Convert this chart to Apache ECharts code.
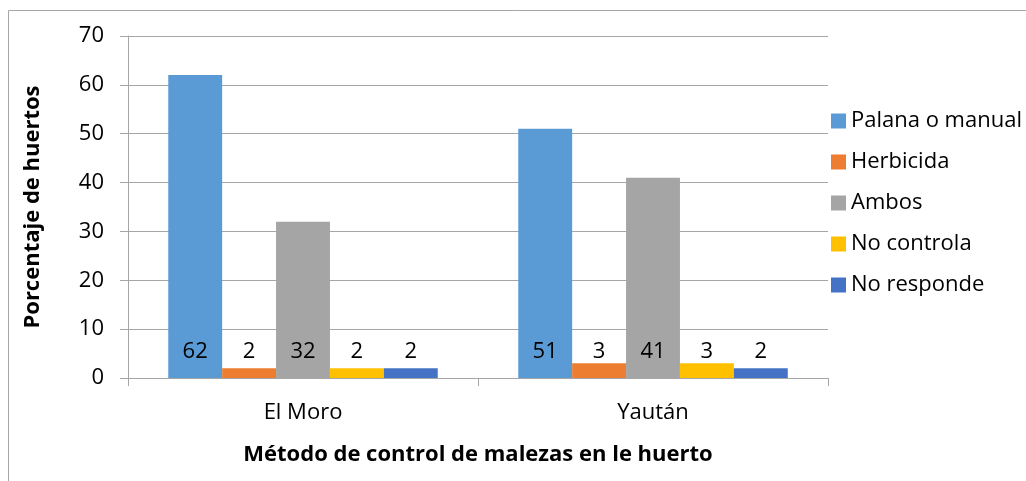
<!DOCTYPE html>
<html>
<head>
<meta charset="utf-8">
<script src="https://cdn.jsdelivr.net/npm/echarts@6/dist/echarts.min.js"></script>
<style>
  html, body { margin: 0; padding: 0; background: #fff; }
  #chart { width: 1026px; height: 481px; }
</style>
</head>
<body>
<div id="chart"></div>
<script>
const categories = ['El Moro', 'Yaután']
const seriesNames = ['Palana o manual', 'Herbicida', 'Ambos', 'No controla', 'No responde']
const palana = [62, 51]
const herbicida = [2, 3]
const ambos = [32, 41]
const noControla = [2, 3]
const noResponde = [2, 2]
const yTicks = [0, 10, 20, 30, 40, 50, 60, 70]

const values = [palana, herbicida, ambos, noControla, noResponde]
const font = '"Open Sans", sans-serif'

let myChart = echarts.init(document.getElementById('chart'))
myChart.setOption({
  animation: false,
  color: ['#5b9bd5', '#ed7d31', '#a5a5a5', '#ffc000', '#4472c4'],
  graphic: [{
    type: 'rect',
    shape: { x: 8.5, y: 10.5, width: 1040, height: 500 },
    style: { fill: 'none', stroke: '#a6a6a6', lineWidth: 1 },
    silent: true
  }],
  grid: {
    left: 128,
    right: 198,
    top: 36,
    bottom: 103
  },
  legend: {
    orient: 'vertical',
    left: 826,
    top: 105,
    itemWidth: 15,
    itemHeight: 15,
    itemGap: 19,
    icon: 'rect',
    data: seriesNames,
    textStyle: { fontSize: 22, color: '#000', fontFamily: font, padding: [0, 0, 0, 0] }
  },
  xAxis: {
    type: 'category',
    data: categories,
    name: 'Método de control de malezas en le huerto',
    nameLocation: 'middle',
    nameGap: 66,
    nameTextStyle: { fontSize: 22, fontWeight: 'bold', color: '#000', fontFamily: font },
    axisLine: { lineStyle: { color: '#a6a6a6', width: 1 } },
    axisTick: { show: true, length: 8, lineStyle: { color: '#a6a6a6' } },
    axisLabel: { fontSize: 22, color: '#000', fontFamily: font, margin: 24 }
  },
  yAxis: {
    type: 'value',
    min: 0,
    max: 70,
    interval: 10,
    name: 'Porcentaje de huertos',
    nameLocation: 'middle',
    nameGap: 84,
    nameTextStyle: { fontSize: 22, fontWeight: 'bold', color: '#000', fontFamily: font },
    axisLine: { show: true, lineStyle: { color: '#a6a6a6', width: 1 } },
    axisTick: { show: true, length: 8, lineStyle: { color: '#a6a6a6' } },
    splitLine: { lineStyle: { color: '#a6a6a6', width: 1 } },
    axisLabel: {
      fontSize: 22, color: '#000', fontFamily: font, margin: 24,
      formatter: v => yTicks.includes(v) ? String(v) : ''
    }
  },
  series: seriesNames.map((name, i) => ({
    name: name,
    type: 'bar',
    barGap: 0,
    barCategoryGap: '23%',
    data: values[i],
    label: {
      show: true,
      position: 'insideBottom',
      distance: 15,
      fontSize: 22,
      color: '#000',
      fontFamily: font
    }
  }))
})
</script>
</body>
</html>
